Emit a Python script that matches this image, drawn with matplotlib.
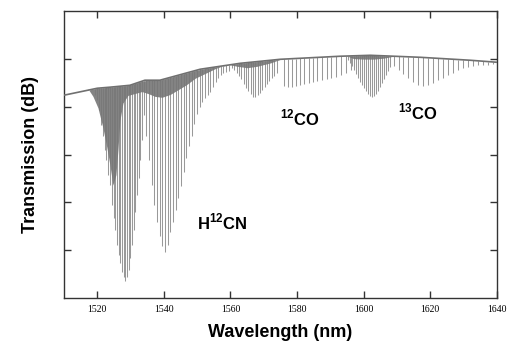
import numpy as np
import matplotlib.pyplot as plt

plt.rcParams["font.family"] = ["Liberation Sans", "DejaVu Sans"]
plt.rcParams["mathtext.fontset"] = "custom"
plt.rcParams["mathtext.bf"] = "Liberation Sans:bold"
plt.rcParams["mathtext.rm"] = "Liberation Sans:bold"

# continuum (upper envelope of the trace)
cont_wl = [1510, 1520, 1523.8, 1529.8, 1534.3, 1538.8, 1550.9, 1562.9,
           1574.9, 1592.9, 1602, 1617, 1632, 1640]
cont_db = [-8.78, -8.05, -7.94, -7.74, -7.21, -7.21, -6.06, -5.44,
           -5.02, -4.70, -4.60, -4.81, -5.12, -5.33]

# H12CN, short-wavelength branch (line centre, bottom of line in dB)
hcn_r_wl = [1519.2, 1519.8, 1520.4, 1521.0, 1521.6, 1522.2, 1522.7, 1523.3,
            1523.8, 1524.4, 1524.9, 1525.4, 1525.9, 1526.4, 1526.9, 1527.4,
            1527.9, 1528.4, 1528.9, 1529.4, 1529.9, 1530.4, 1530.9, 1531.4,
            1531.9, 1532.4, 1532.9, 1533.4]
hcn_r_db = [-8.8, -9.3, -10.3, -11.9, -13.0, -14.5, -15.6, -17.1,
            -18.2, -20.3, -21.6, -22.9, -24.5, -25.5, -26.3, -27.3,
            -27.8, -28.2, -27.8, -27.1, -25.8, -24.5, -22.9, -21.0,
            -19.2, -17.5, -15.6, -13.5]

# H12CN, long-wavelength branch
hcn_p_wl = [1533.9, 1534.7, 1535.5, 1536.3, 1537.1, 1537.9, 1538.7, 1539.5,
            1540.3, 1541.1, 1541.9, 1542.7, 1543.5, 1544.3, 1545.1, 1545.9,
            1546.7, 1547.5, 1548.3, 1549.1, 1549.9, 1550.7, 1551.5, 1552.3,
            1553.1, 1553.9, 1554.7, 1555.5, 1556.3, 1557.1, 1557.9, 1558.7,
            1559.5]
hcn_p_db = [-10.9, -13.0, -15.6, -18.2, -20.3, -22.1, -23.5, -24.6,
            -25.2, -24.5, -23.1, -22.1, -20.8, -19.5, -18.3, -16.8,
            -15.4, -14.1, -13.0, -11.8, -10.8, -10.0, -9.5, -9.1,
            -8.8, -8.4, -7.9, -7.4, -7.0, -6.7, -6.5, -6.3,
            -6.2]

# 12CO
co12_wl = [1560.5, 1561.2, 1561.9, 1562.6, 1563.3, 1564.0, 1564.7, 1565.4,
           1566.1, 1566.8, 1567.5, 1568.2, 1568.9, 1569.6, 1570.3, 1571.0,
           1571.7, 1572.4, 1573.1, 1573.9,
           1576.0, 1577.2, 1578.4, 1579.6, 1580.9, 1582.2, 1583.5, 1584.8,
           1586.1, 1587.5, 1588.9, 1590.3, 1591.7, 1593.1, 1594.6, 1596.1,
           1597.6]
co12_db = [-5.96, -6.17, -6.48, -6.79, -7.11, -7.63, -8.05, -8.36,
           -8.68, -8.99, -8.99, -8.78, -8.57, -8.26, -7.94, -7.63,
           -7.32, -7.00, -6.79, -6.48,
           -7.84, -7.94, -7.94, -7.84, -7.74, -7.63, -7.53, -7.42,
           -7.32, -7.21, -7.11, -7.00, -6.90, -6.69, -6.48, -6.17,
           -5.85]

# 13CO
co13_wl = [1595.2, 1595.8, 1596.4, 1597.0, 1597.6, 1598.2, 1598.8, 1599.4,
           1600.0, 1600.6, 1601.2, 1601.8, 1602.4, 1603.0, 1603.6, 1604.2,
           1604.8, 1605.4, 1606.0, 1606.6, 1607.2, 1607.8,
           1609.2, 1610.5, 1611.9, 1613.4, 1614.9, 1616.4, 1617.9, 1619.4,
           1620.9, 1622.4, 1623.9, 1625.4, 1626.9, 1628.4, 1629.9, 1631.4,
           1632.9, 1634.4, 1635.9, 1637.4, 1638.9]
co13_db = [-5.12, -5.44, -5.75, -6.17, -6.59, -7.00, -7.42, -7.74,
           -8.05, -8.36, -8.68, -8.89, -8.99, -8.89, -8.68, -8.36,
           -7.94, -7.53, -7.11, -6.69, -6.27, -5.85,
           -5.75, -6.17, -6.59, -7.00, -7.42, -7.74, -7.84, -7.74,
           -7.53, -7.21, -7.00, -6.69, -6.48, -6.17, -5.96, -5.85,
           -5.75, -5.64, -5.64, -5.64, -5.54]

# unresolved weak lines (dark mass under the continuum)
dense_wl = [1517.2, 1518.7, 1520.2, 1521.7, 1522.9, 1523.8, 1524.7, 1525.6,
            1526.2, 1526.8, 1527.7, 1529.2, 1531.3, 1533.4, 1535.2, 1537.3,
            1539.4, 1541.9, 1544.3, 1546.7, 1549.4, 1552.4, 1555.4, 1558.0,
            1560.0, 1562.0, 1565.0, 1568.0, 1572.0, 1575.0, 1595.0, 1597.0,
            1600.0, 1603.0, 1606.0, 1609.0]
dense_db = [-8.1, -8.9, -10.1, -12.2, -14.3, -16.1, -18.2, -17.1,
            -14.5, -11.4, -9.6, -8.8, -8.6, -8.4, -8.6, -8.9,
            -9.0, -8.7, -8.2, -7.7, -7.0, -6.5, -6.0, -5.65,
            -5.6, -5.75, -5.9, -5.75, -5.4, -5.02, -4.68, -4.95,
            -5.0, -5.0, -4.9, -4.70]

bands = [(hcn_r_wl, hcn_r_db), (hcn_p_wl, hcn_p_db),
         (co12_wl, co12_db), (co13_wl, co13_db)]

fig, ax = plt.subplots(figsize=(5.16, 3.55), dpi=100)
fig.subplots_adjust(left=0.124, right=0.963, top=0.968, bottom=0.161)

for wl, db in bands:
    top = np.interp(wl, cont_wl, cont_db)
    ax.vlines(wl, db, top, color="#999999", lw=0.75, zorder=2)

dense_top = np.interp(dense_wl, cont_wl, cont_db)
ax.fill_between(dense_wl, dense_db, dense_top, color="#767676", lw=0,
                alpha=0.9, zorder=3)
ax.plot(cont_wl, cont_db, color="#707070", lw=1.2, zorder=4)

ax.text(1557.5, -22.1, r"H$^{\mathbf{12}}$CN", fontsize=12, fontweight="bold",
        ha="center", va="center")
ax.text(1580.9, -11.2, r"$^{\mathbf{12}}$CO", fontsize=12, fontweight="bold",
        ha="center", va="center")
ax.text(1616.4, -10.6, r"$^{\mathbf{13}}$CO", fontsize=12, fontweight="bold",
        ha="center", va="center")

ax.set_xlim(1510, 1640)
ax.set_ylim(-30, 0)
ax.set_xticks(range(1520, 1641, 20))
ax.set_yticks([-25, -20, -15, -10, -5])
ax.set_yticklabels([])
ax.tick_params(direction="in", top=True, right=True, length=5, width=1,
               color="#333333", pad=5)
for lab in ax.get_xticklabels():
    lab.set_family("Liberation Serif")
    lab.set_fontsize(7)
for sp in ax.spines.values():
    sp.set_color("#333333")
    sp.set_linewidth(1)

ax.set_xlabel("Wavelength (nm)", fontsize=13, fontweight="bold", labelpad=7)
ax.set_ylabel("Transmission (dB)", fontsize=13, fontweight="bold", labelpad=13)

fig.savefig("out.png", dpi=100)
